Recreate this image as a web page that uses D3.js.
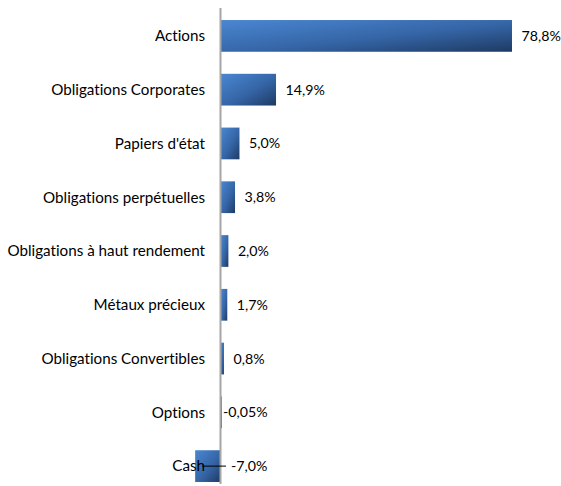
<!DOCTYPE html>
<html lang="fr">
<head>
<meta charset="utf-8">
<title>Allocation</title>
<script src="https://cdn.jsdelivr.net/npm/d3@7"></script>
<style>
  body { margin: 0; background: #fff; }
  text { font-family: Lato, "Open Sans", sans-serif; font-size: 15.2px; fill: #000; font-variant-ligatures: none; }
  text.val { font-size: 14.2px; }
</style>
</head>
<body>
<script>
// data
var categories = ["Actions", "Obligations Corporates", "Papiers d'état", "Obligations perpétuelles",
    "Obligations à haut rendement", "Métaux précieux", "Obligations Convertibles", "Options", "Cash"];
var values = [78.8, 14.9, 5.0, 3.8, 2.0, 1.7, 0.8, -0.05, -7.0];
var valueLabels = ["78,8%", "14,9%", "5,0%", "3,8%", "2,0%", "1,7%", "0,8%", "-0,05%", "-7,0%"];

var w = 561, h = 486;

var svg = d3.select("body").append("svg")
    .attr("width", w).attr("height", h);

var defs = svg.append("defs");
var grad = defs.append("linearGradient")
    .attr("id", "barGrad")
    .attr("x1", 0).attr("y1", 0).attr("x2", 1).attr("y2", 1);
grad.append("stop").attr("offset", "0%").attr("stop-color", "#4a87d2");
grad.append("stop").attr("offset", "55%").attr("stop-color", "#3565a6");
grad.append("stop").attr("offset", "100%").attr("stop-color", "#1e3a63");

// x scale: zero at the axis line
var x = d3.scaleLinear().domain([0, 78.8]).range([221, 512]);

var y = d3.scaleBand().domain(categories).range([9, 493]).paddingInner(0.41).paddingOuter(0.205);

var data = categories.map(function(c, i) {
    return { name: c, value: values[i], label: valueLabels[i] };
});

// bars
svg.selectAll("rect.bar")
    .data(data)
    .enter()
    .append("rect")
    .attr("class", "bar")
    .attr("x", function(d) { return Math.min(x(0), x(d.value)); })
    .attr("y", function(d) { return y(d.name); })
    .attr("width", function(d) { return Math.max(1, Math.abs(x(d.value) - x(0))); })
    .attr("height", y.bandwidth())
    .attr("fill", "url(#barGrad)");

// category labels
svg.selectAll("text.cat")
    .data(data)
    .enter()
    .append("text")
    .attr("class", "cat")
    .attr("x", 205)
    .attr("y", function(d) { return y(d.name) + y.bandwidth() / 2; })
    .attr("dy", "0.35em")
    .attr("text-anchor", "end")
    .text(function(d) { return d.name; });

// axis line
svg.append("line")
    .attr("x1", x(0) - 0.5).attr("x2", x(0) - 0.5)
    .attr("y1", 8).attr("y2", 484)
    .attr("stroke", "#a6a6a6")
    .attr("stroke-width", 2);

// value labels (negative ones sit right of the axis)
function labelX(d) {
    if (d.value >= 0) return x(d.value) + 9.5;
    return d.value < -1 ? x(0) + 10 : x(0) + 2;
}

svg.selectAll("text.val")
    .data(data)
    .enter()
    .append("text")
    .attr("class", "val")
    .attr("x", labelX)
    .attr("y", function(d) { return y(d.name) + y.bandwidth() / 2; })
    .attr("dy", "0.35em")
    .text(function(d) { return d.label; });

// leader line for the Cash label
var cash = data[data.length - 1];
svg.append("line")
    .attr("x1", x(cash.value) + 7).attr("x2", x(0) + 5)
    .attr("y1", y(cash.name) + y.bandwidth() / 2)
    .attr("y2", y(cash.name) + y.bandwidth() / 2)
    .attr("stroke", "#000")
    .attr("stroke-width", 1);
</script>
</body>
</html>
